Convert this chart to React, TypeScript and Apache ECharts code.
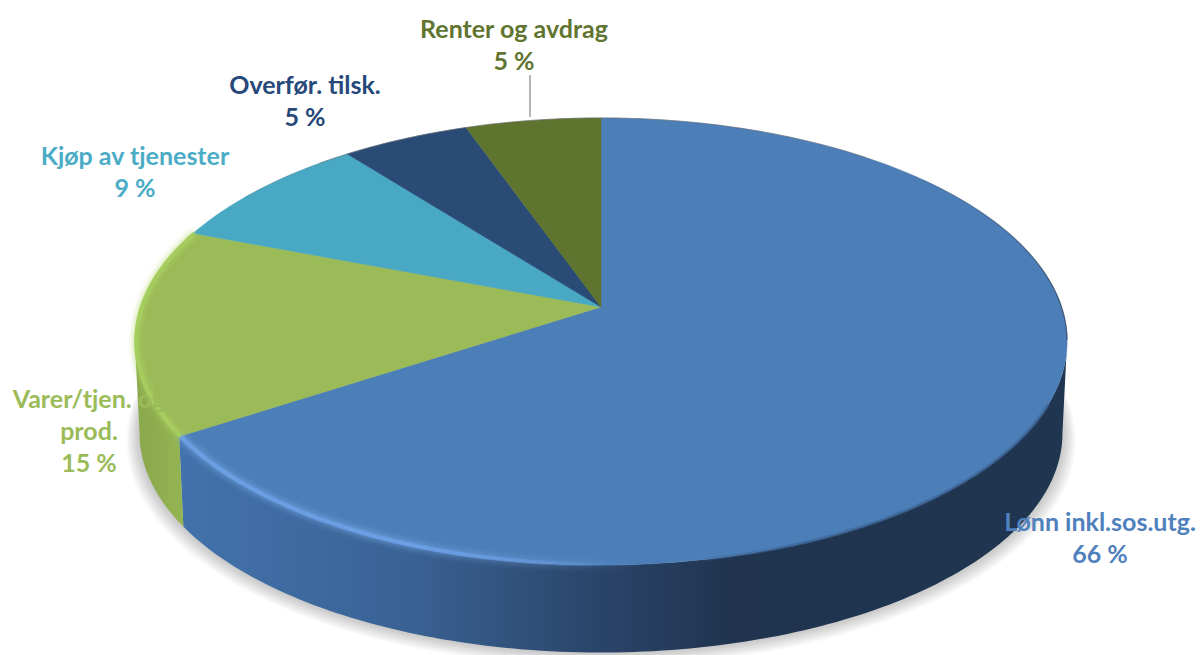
import React, { useEffect, useRef } from "react";
import * as echarts from "echarts";

const names = ["Lønn inkl.sos.utg.", "Varer/tjen. og\nprod.", "Kjøp av tjenester", "Overfør. tilsk.", "Renter og avdrag"];
const shares = [65.85, 14.95, 8.6, 5.15, 5.45];
const faceColors = ["#4c7eb8", "#9bba58", "#49a8c4", "#2a4b76", "#5f742f"];
const textColors = ["#4f81bd", "#9bbb59", "#4bacc6", "#27497a", "#5f7530"];
const labelX = [1100, 89, 135, 305, 514];
const labelY = [537, 430, 171, 100, 44];

// perspective disc geometry
const CX = 601, CY = 307, A = 460.5, H = 218.2, K = 0.1544;
const ELL_Y = 341, BOT_Y = 433, BOT_SX = 0.99, BOT_SY = 0.98;
const VIS_A = (98.9 * Math.PI) / 180, VIS_B = (261.1 * Math.PI) / 180;
const STEP = Math.PI / 180;
const SHADOW_LAYERS = 9;

const top = (t: number, s = 1): number[] => {
  const w = 1 + K * Math.cos(t);
  const x = CX + (A * Math.sin(t)) / w;
  const y = CY - (H * Math.cos(t)) / w;
  return [CX + (x - CX) * s, ELL_Y + (y - ELL_Y) * s];
};
const bottom = (t: number): number[] => {
  const p = top(t);
  return [CX + (p[0] - CX) * BOT_SX, BOT_Y + (p[1] - ELL_Y) * BOT_SY];
};
const arc = (a: number, b: number, f: (t: number) => number[]): number[][] => {
  const out: number[][] = [];
  const n = Math.max(1, Math.ceil(Math.abs(b - a) / STEP));
  for (let i = 0; i <= n; i++) out.push(f(a + ((b - a) * i) / n));
  return out;
};
const total = shares.reduce((a, b) => a + b, 0);
const ranges = shares.map((_, i) => {
  const before = shares.slice(0, i).reduce((a, b) => a + b, 0);
  return [(before / total) * 2 * Math.PI, ((before + shares[i]) / total) * 2 * Math.PI];
});
const grad = (x: number, x2: number, stops: [number, string][]) =>
  new echarts.graphic.LinearGradient(x, 0, x2, 0, stops.map(([offset, color]) => ({ offset, color })), true);

const wallFills = [
  grad(183, 1067, [[0, "#4272ab"], [0.25, "#3a6395"], [0.45, "#2c476d"], [0.62, "#20344f"], [1, "#1f3550"]]),
  grad(137, 190, [[0, "#8aa84c"], [1, "#96b654"]]),
];

const renderShadow = (params: any) => {
  const i = SHADOW_LAYERS - params.dataIndex;
  return {
    type: "polygon",
    shape: {
      points: arc(0, 2 * Math.PI, (t) => {
        const p = bottom(t);
        const g = 1 + i * 0.0032;
        return [CX + (p[0] - CX) * g, BOT_Y + (p[1] - BOT_Y) * g + i * 0.8];
      }),
    },
    style: { fill: "rgba(0,0,0,0.022)" },
  };
};

const renderWall = (params: any) => {
  const [a, b] = ranges[params.dataIndex];
  const s = Math.max(a, VIS_A), e = Math.min(b, VIS_B);
  if (s >= e) return { type: "group", children: [] };
  return {
    type: "polygon",
    shape: { points: [...arc(s, e, top), ...arc(e, s, bottom)] },
    style: { fill: wallFills[params.dataIndex] ?? "#888" },
  };
};

const renderFace = (params: any) => {
  const [a, b] = ranges[params.dataIndex];
  return {
    type: "polygon",
    shape: { points: [[CX, CY], ...arc(a, b, top)] },
    style: { fill: faceColors[params.dataIndex], stroke: faceColors[params.dataIndex], lineWidth: 0.5 },
  };
};

const rims = [
  { a: 2.0, b: 2.95, s: 1, w: 3, blur: 0, c: "none",
    stroke: grad(640, 1040, [[0, "rgba(60,100,150,0)"], [0.4, "rgba(60,100,150,0.7)"], [1, "rgba(60,100,150,0.7)"]]) },
  { a: ranges[0][1], b: 2.95, s: 0.997, w: 4, blur: 7, c: "#7fb2f2",
    stroke: grad(183, 640, [[0, "#6a9fe2"], [0.5, "#6a9fe6"], [0.8, "rgba(110,160,230,0.4)"], [1, "rgba(90,140,210,0)"]]) },
  { a: ranges[0][1], b: ranges[1][1], s: 0.997, w: 4, blur: 6, c: "#aed563",
    stroke: "#a6cd5e" },
  { a: -1.0, b: 1.72, s: 1, w: 1.2, blur: 0, c: "none",
    stroke: grad(900, 1067, [[0, "rgba(50,60,80,0.15)"], [1, "rgba(30,40,60,0.6)"]]) },
  { a: -0.75, b: 0.7, s: 1, w: 1, blur: 0, c: "none", stroke: "rgba(120,120,120,0.45)" },
];

const renderRim = (params: any) => {
  const r = rims[params.dataIndex];
  return {
    type: "polyline",
    shape: { points: arc(r.a, r.b, (t) => top(t, r.s)) },
    style: {
      fill: "none",
      stroke: r.stroke,
      lineWidth: r.w,
      ...(r.blur ? { shadowBlur: r.blur, shadowColor: r.c } : {}),
    },
  };
};

const option = {
  animation: false,
  backgroundColor: "#ffffff",
  series: [
    { type: "custom", coordinateSystem: "none", silent: true, data: Array.from({ length: SHADOW_LAYERS }, (_, i) => i), renderItem: renderShadow },
    { type: "custom", coordinateSystem: "none", silent: true, data: shares, renderItem: renderWall },
    { type: "custom", coordinateSystem: "none", silent: true, data: shares, renderItem: renderFace },
    { type: "custom", coordinateSystem: "none", silent: true, data: rims.map((_, i) => i), renderItem: renderRim },
  ],
  graphic: [
    {
      type: "line",
      z: 10,
      shape: { x1: 530, y1: 75, x2: 530, y2: 117 },
      style: { stroke: "#b5b5b5", lineWidth: 2 },
    },
    ...names.map((n, i) => ({
      type: "text",
      z: 20,
      x: labelX[i],
      y: labelY[i],
      style: {
        text: `${n}\n${Math.round(shares[i])} %`,
        fill: textColors[i],
        font: "700 25px Lato, sans-serif",
        lineHeight: 32,
        align: "center",
        verticalAlign: "middle",
      },
    })),
  ],
};

export default function App() {
  const ref = useRef<HTMLDivElement>(null);
  useEffect(() => {
    document.body.style.margin = "0";
    const chart = echarts.init(ref.current!, undefined, { renderer: "svg" });
    chart.setOption(option as any);
    return () => chart.dispose();
  }, []);
  return <div ref={ref} style={{ width: 1200, height: 655 }} />;
}
